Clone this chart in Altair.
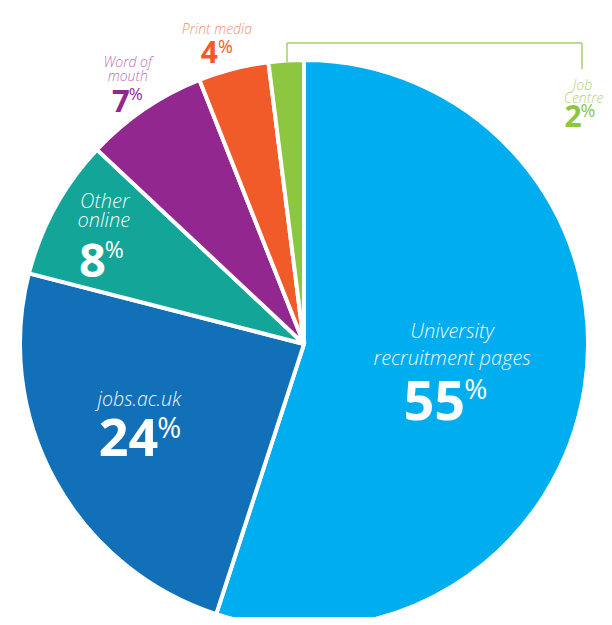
import altair as alt
import pandas as pd

# ---------------- data ----------------
categories = ["University recruitment pages", "jobs.ac.uk", "Other online",
              "Word of mouth", "Print media", "Job Centre"]
values = [55, 24, 8, 7, 4, 2]
label_lines = [["University", "recruitment pages"], ["jobs.ac.uk"], ["Other", "online"],
               ["Word of", "mouth"], ["Print media"], ["Job", "Centre"]]

# ---------------- style ----------------
slice_colors = ["#00ADEE", "#1170B8", "#13A597", "#92278F", "#F15A29", "#8DC63F"]
name_colors = ["#FFFFFF", "#FFFFFF", "#FFFFFF", "#B46CB2", "#F58B6E", "#A8D373"]
num_colors = ["#FFFFFF", "#FFFFFF", "#FFFFFF", "#92278F", "#F15A29", "#8DC63F"]
FONT = "Open Sans"
CX, CY, R = 296, 336, 284

# per label: anchor radius, line offsets, name size, number (dx, dy, size), percent (dx, dy, size)
styles = [
    dict(r=150, lines=[(0, -29), (0, -2)], ns=20, num=(13, 53, 54), pct=(12, 32, 28)),
    dict(r=180, lines=[(-7, -25)], ns=19.5, num=(12, 25, 52), pct=(11, 7, 29)),
    dict(r=225, lines=[(-2, -28), (-3, -9)], ns=20, num=(-1, 41, 47), pct=(-2, 22, 23)),
    dict(r=310, lines=[(-2, -21), (-2, -7)], ns=14, num=(0, 24, 31), pct=(-1, 12, 17)),
    dict(r=310, lines=[(-10, -10)], ns=14, num=(-9, 19, 30), pct=(-9, 9, 18)),
    dict(r=310, lines=[(298, 55), (299, 68)], ns=14, num=(297, 92, 30), pct=(296, 82, 18)),
]

df = pd.DataFrame({
    "idx": list(range(len(categories))),
    "category": categories,
    "value": values,
    "line0": [l[0] for l in label_lines],
    "line1": [l[1] if len(l) > 1 else "" for l in label_lines],
})

theta_scale = alt.Scale(domain=[0, 100])

base = (
    alt.Chart(df)
    .transform_stack(stack="value", groupby=[], as_=["v0", "v1"],
                     sort=[alt.SortField("idx", order="ascending")])
    .transform_calculate(mid="(datum.v0 + datum.v1) / 2")
)

pie = base.mark_arc(outerRadius=R, stroke="white", strokeWidth=4).encode(
    theta=alt.Theta("v0:Q", scale=theta_scale, stack=False),
    theta2="v1:Q",
    color=alt.Color("category:N", scale=alt.Scale(domain=categories, range=slice_colors), legend=None),
    x=alt.value(CX),
    y=alt.value(CY),
)

layers = [pie]
for i, cat in enumerate(categories):
    st = styles[i]
    sub = base.transform_filter(alt.datum.category == cat)
    pos = dict(theta=alt.Theta("mid:Q", scale=theta_scale, stack=False),
               x=alt.value(CX), y=alt.value(CY))
    for j, (dx, dy) in enumerate(st["lines"]):
        layers.append(
            sub.mark_text(radius=st["r"], dx=dx, dy=dy, align="center", baseline="alphabetic",
                          font=FONT, fontStyle="italic", fontWeight=300, fontSize=st["ns"],
                          color=name_colors[i], opacity=0.95)
            .encode(text=alt.Text(f"line{j}:N"), **pos)
        )
    ndx, ndy, nsz = st["num"]
    layers.append(
        sub.mark_text(radius=st["r"], dx=ndx, dy=ndy, align="right", baseline="alphabetic",
                      font=FONT, fontWeight=700, fontSize=nsz, color=num_colors[i])
        .encode(text=alt.Text("value:Q", format="d"), **pos)
    )
    pdx, pdy, psz = st["pct"]
    layers.append(
        sub.mark_text(radius=st["r"], dx=pdx, dy=pdy, align="left", baseline="alphabetic",
                      font=FONT, fontWeight=500, fontSize=psz, color=num_colors[i])
        .encode(text=alt.value("%"), **pos)
    )

# leader bracket for "Job Centre"
bracket_color = "#A3D06C"
one = alt.Chart(pd.DataFrame({"k": [0]}))
layers.append(one.mark_rule(color=bracket_color, strokeWidth=1.5).encode(
    x=alt.value(279), y=alt.value(35), y2=alt.value(54)))
layers.append(one.mark_rule(color=bracket_color, strokeWidth=1.5).encode(
    x=alt.value(279), x2=alt.value(574), y=alt.value(35)))
layers.append(one.mark_rule(color=bracket_color, strokeWidth=1.5).encode(
    x=alt.value(574), y=alt.value(35), y2=alt.value(61)))

chart = (
    alt.layer(*layers)
    .properties(width=596, height=609, padding=0, autosize=alt.AutoSizeParams(type="none"))
    .configure_view(strokeWidth=0)
)

chart.save("out.html", embed_options={"renderer": "svg", "actions": False})
